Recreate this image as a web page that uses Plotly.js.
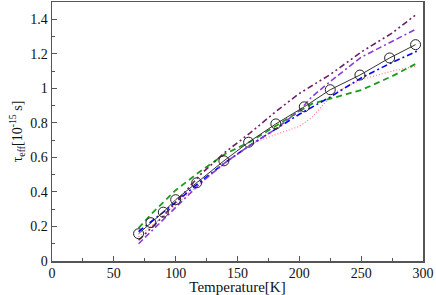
<!DOCTYPE html>
<html><head><meta charset="utf-8">
<script src="https://cdn.plot.ly/plotly-3.0.1.min.js"></script>
<style>html,body{margin:0;padding:0;background:#fff;}#plot{width:436px;height:295px;}</style>
</head><body><div id="plot"></div>
<script>
// Experimental (open circles, solid line)
var expT   = [70, 80, 90, 100, 117, 139, 159, 181, 204, 225, 249, 273, 294];
var expTau = [0.158, 0.222, 0.283, 0.355, 0.453, 0.58, 0.688, 0.794, 0.893, 0.992, 1.077, 1.176, 1.253];
// Blue dash-dot
var blueT   = [70, 80, 90, 100, 120, 140, 160, 180, 200, 225, 250, 275, 295];
var blueTau = [0.17, 0.225, 0.28, 0.34, 0.46, 0.57, 0.67, 0.76, 0.85, 0.95, 1.06, 1.15, 1.215];
// Red dotted
var redT   = [70, 90, 110, 130, 150, 165, 180, 200, 210, 220, 230, 250, 275, 295];
var redTau = [0.14, 0.26, 0.39, 0.51, 0.62, 0.69, 0.73, 0.78, 0.83, 0.91, 0.98, 1.05, 1.10, 1.13];
// Green dashed
var greenT   = [70, 80, 90, 100, 120, 140, 160, 180, 200, 210, 225, 250, 275, 295];
var greenTau = [0.19, 0.27, 0.34, 0.41, 0.52, 0.62, 0.69, 0.78, 0.87, 0.91, 0.94, 0.99, 1.07, 1.145];
// Maroon dash-dot
var maroonT   = [70, 80, 90, 100, 120, 140, 160, 180, 200, 225, 250, 275, 295];
var maroonTau = [0.12, 0.19, 0.26, 0.34, 0.50, 0.63, 0.74, 0.86, 0.97, 1.08, 1.21, 1.32, 1.43];
// Violet dash-dash-dot
var violetT   = [70, 80, 90, 100, 120, 140, 160, 180, 200, 210, 225, 250, 275, 295];
var violetTau = [0.10, 0.17, 0.24, 0.31, 0.45, 0.57, 0.67, 0.76, 0.87, 0.95, 1.04, 1.18, 1.27, 1.345];

var xTicks = [0, 50, 100, 150, 200, 250, 300];
var yTicks = [0, 0.2, 0.4, 0.6, 0.8, 1, 1.2, 1.4];

var FONT = 'Liberation Serif';

var traces = [
  {x: redT, y: redTau, mode: 'lines', line: {color: '#ff7f7f', width: 1.2, dash: '1px,2px'}},
  {x: greenT, y: greenTau, mode: 'lines', line: {color: '#1f9a1f', width: 1.8, dash: '6px,4px'}},
  {x: blueT, y: blueTau, mode: 'lines', line: {color: '#0000ff', width: 1.6, dash: '6px,3px,2px,3px'}},
  {x: violetT, y: violetTau, mode: 'lines', line: {color: '#8a3dd6', width: 1.6, dash: '6px,3px,6px,3px,2px,3px'}},
  {x: maroonT, y: maroonTau, mode: 'lines', line: {color: '#6e1f63', width: 1.6, dash: '6px,3px,2px,3px,2px,3px'}},
  {x: expT, y: expTau, mode: 'lines+markers', line: {color: '#333333', width: 1},
   marker: {symbol: 'circle-open', size: 10, color: '#222222', line: {width: 1}}}
];

var axisCommon = {
  showline: true, mirror: true, linecolor: '#555555', linewidth: 1.5,
  ticks: 'inside', ticklen: 5, tickwidth: 1, tickcolor: '#555555',
  showgrid: false, zeroline: false, automargin: false,
  tickfont: {family: FONT, size: 14, color: '#111'}
};

var layout = {
  width: 436, height: 295,
  margin: {l: 52, r: 13, t: 2, b: 34},
  paper_bgcolor: '#fff', plot_bgcolor: '#fff',
  showlegend: false,
  font: {family: FONT, size: 14, color: '#111'},
  xaxis: Object.assign({}, axisCommon, {
    range: [0, 300], tickvals: xTicks, ticktext: xTicks.map(String),
    ticklabelstandoff: -1,
    minor: {ticks: 'inside', ticklen: 3, tickcolor: '#555555', tickwidth: 1, showgrid: false, dtick: 25, tick0: 0},
    title: {text: 'Temperature[K]', standoff: 2, font: {family: FONT, size: 15, color: '#111'}}
  }),
  yaxis: Object.assign({}, axisCommon, {
    range: [0, 1.5], tickvals: yTicks, ticktext: yTicks.map(String),
    minor: {ticks: 'inside', ticklen: 3, tickcolor: '#555555', tickwidth: 1, showgrid: false, dtick: 0.1, tick0: 0},
    title: {text: 'τ<sub>eff</sub>[10<sup>-15</sup> s]', standoff: 4, font: {family: FONT, size: 14, color: '#111'}}
  })
};

Plotly.newPlot('plot', traces, layout, {staticPlot: true, displayModeBar: false});
</script>
</body></html>
